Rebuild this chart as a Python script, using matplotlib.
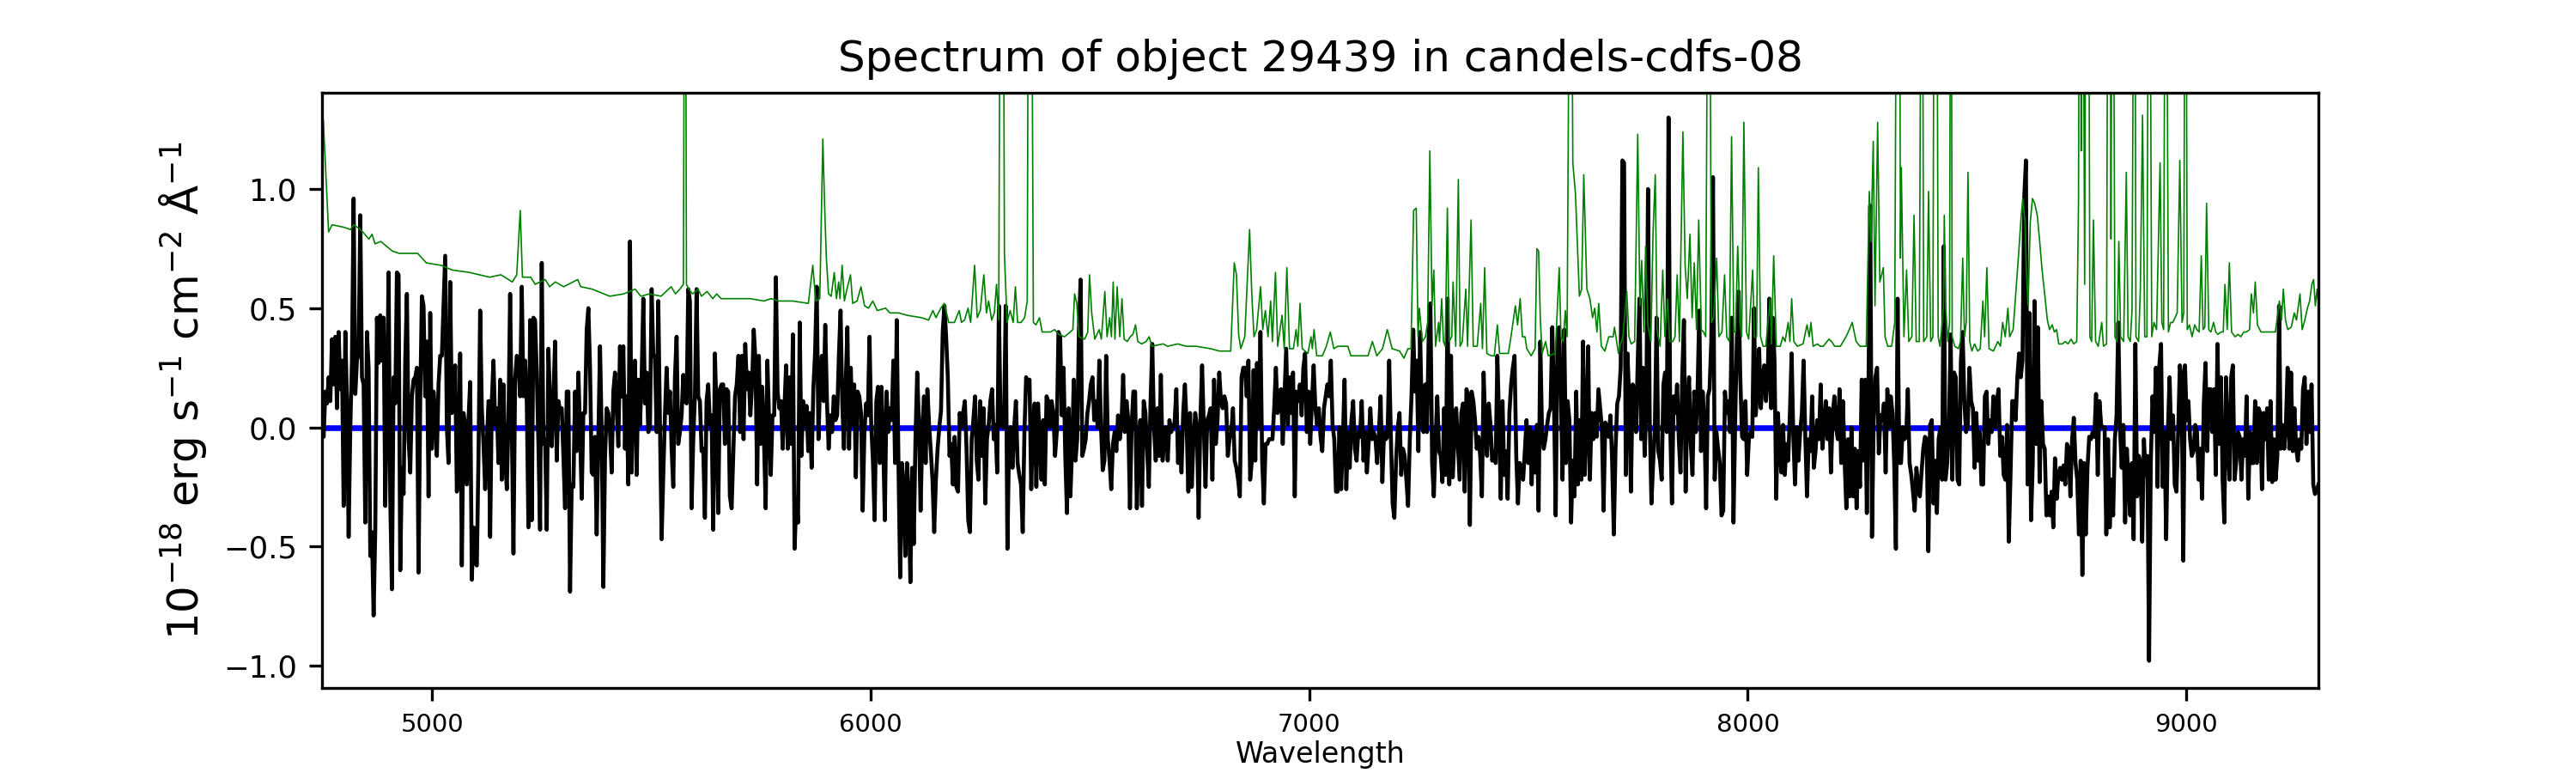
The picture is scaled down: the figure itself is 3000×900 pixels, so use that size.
import numpy as np
import matplotlib
matplotlib.use("Agg")
import matplotlib.pyplot as plt

TITLE = "Spectrum of object 29439 in candels-cdfs-08"
XLABEL = "Wavelength"
YLABEL = "$10^{-18}$ erg s$^{-1}$ cm$^{-2}$ Å$^{-1}$"

# wavelength span of each flux segment (Angstrom)
SEG_RANGES = [(4749, 5679), (5683, 6599), (6603, 7519), (7523, 8439), (8443, 9301)]

FLUX_SEG1 = [0.01, -0.04, 0.15, 0.10, 0.21, 0.11, 0.37, 0.18, 0.38, 0.08, 0.40, 0.16, 0.28, -0.33, 0.40, 0.11,
             -0.46, 0.00, 0.28, 0.96, 0.14, 0.28, 0.31, 0.89, 0.21, 0.18, -0.40, 0.40, 0.25, -0.54, -0.44, -0.79,
             -0.43, 0.46, 0.27, 0.47, 0.28, 0.46, -0.33, 0.11, 0.65, -0.30, -0.68, 0.21, 0.10, 0.65, 0.64, -0.60,
             -0.17, -0.28, 0.28, 0.56, -0.05, -0.19, 0.13, 0.20, 0.21, 0.25, -0.61, 0.11, 0.55, 0.51, 0.13, 0.36,
             -0.29, 0.48, -0.09, 0.15, 0.06, -0.12, 0.18, 0.30, 0.30, 0.51, 0.72, 0.00, -0.15, 0.61, 0.06, 0.10,
             0.26, -0.27, -0.15, 0.31, -0.58, 0.06, 0.01, -0.24, 0.03, 0.19, -0.64, -0.42, -0.57, -0.58, -0.12, 0.49,
             0.08, -0.07, -0.26, -0.07, 0.11, -0.46, 0.11, 0.28, 0.01, 0.08, -0.15, 0.20, -0.22, 0.18, -0.12, -0.26,
             0.03, 0.56, 0.03, -0.53, 0.20, 0.30, 0.28, 0.13, 0.59, 0.13, 0.28, 0.11, -0.42, 0.45, -0.39, 0.46,
             0.45, 0.23, -0.07, -0.43, 0.69, -0.07, -0.05, -0.43, 0.33, 0.10, -0.08, 0.13, 0.36, -0.14, 0.11, 0.07,
             0.08, -0.12, -0.34, 0.15, 0.15, -0.69, -0.24, -0.25, 0.15, -0.10, 0.23, -0.02, -0.30, 0.06, 0.06, 0.41,
             0.50, 0.25, -0.19, -0.20, -0.04, -0.45, -0.04, 0.34, -0.02, -0.67, -0.13, 0.08, 0.06, -0.02, -0.19, 0.15,
             0.23, 0.08, -0.08, 0.34, 0.13, 0.34, -0.09, 0.13, -0.24, 0.78, -0.19, 0.21, 0.28, -0.20, 0.20, 0.01,
             0.21, 0.54, 0.10, 0.23, -0.02, 0.00, 0.58, 0.30, 0.30, -0.02, 0.53, 0.01, -0.47, -0.20, 0.05, 0.25,
             0.06, 0.15, -0.09, -0.25, 0.21, 0.38, -0.07, -0.02, 0.05, 0.22, 0.11, 0.10, 0.58, 0.53, -0.34, -0.05,
             0.13, 0.58, 0.13, 0.11, -0.10, -0.09, -0.38, 0.11, 0.18, 0.01, 0.05, -0.43, 0.31, 0.06, -0.36, 0.16,
             0.18, 0.18, -0.07, 0.16, 0.15, -0.29]

FLUX_SEG2 = [-0.34, -0.10, 0.13, 0.18, 0.30, -0.02, 0.30, -0.05, 0.35, 0.16, 0.23, 0.05, 0.18, 0.41, 0.28, -0.24,
             0.30, -0.07, 0.17, -0.05, -0.34, 0.28, 0.03, -0.20, 0.05, 0.05, 0.63, 0.15, 0.08, 0.11, -0.09, 0.08,
             0.26, -0.09, 0.21, -0.07, 0.39, -0.51, -0.30, -0.40, 0.44, -0.12, 0.11, 0.01, 0.09, -0.10, 0.06, -0.17,
             0.16, 0.31, 0.59, -0.05, 0.20, 0.30, 0.11, 0.43, 0.11, -0.09, 0.05, -0.02, 0.13, 0.03, 0.05, 0.30,
             0.49, 0.10, -0.09, 0.18, 0.42, -0.09, 0.25, 0.01, 0.18, -0.21, 0.15, 0.13, 0.06, -0.35, -0.02, 0.10,
             0.05, 0.38, 0.01, -0.14, -0.39, 0.11, 0.17, -0.15, 0.17, -0.05, -0.39, 0.15, -0.02, 0.08, 0.03, 0.28,
             -0.15, 0.45, -0.15, -0.63, -0.15, -0.25, -0.54, -0.15, -0.30, -0.65, -0.17, -0.49, -0.05, 0.23, 0.03, -0.35,
             -0.02, 0.13, -0.15, 0.16, 0.01, -0.10, -0.22, -0.44, -0.22, -0.09, 0.00, 0.07, 0.40, 0.51, 0.38, 0.21,
             -0.12, -0.07, -0.24, -0.04, -0.25, -0.27, 0.06, 0.00, 0.06, 0.11, -0.09, -0.39, -0.44, -0.05, 0.03, 0.13,
             -0.14, -0.22, 0.11, -0.12, 0.08, -0.32, -0.05, 0.01, 0.11, 0.16, -0.05, 0.01, -0.19, 0.51, 0.01, 0.00,
             0.00, 0.51, -0.51, -0.05, 0.00, -0.17, 0.00, 0.11, -0.15, -0.20, -0.24, -0.44, -0.02, 0.21, 0.18, 0.20,
             -0.26, 0.01, 0.10, -0.25, 0.10, -0.05, -0.22, 0.03, -0.24, 0.13, 0.11, 0.00, 0.11, 0.06, -0.12, -0.02,
             0.40, 0.38, 0.05, 0.25, -0.12, -0.36, 0.08, -0.29, -0.09, 0.20, -0.14, -0.05, 0.41, 0.62, -0.12, -0.09,
             -0.05, 0.06, 0.11, 0.18, 0.21, 0.03, 0.11, 0.00, 0.28, 0.00, -0.18, -0.14, 0.30, -0.05, -0.14, -0.26,
             -0.07, -0.02, -0.10, 0.05, -0.05, 0.01, 0.22, -0.02, 0.11, 0.03, -0.34, 0.01, 0.15]

FLUX_SEG3 = [0.15, -0.34, -0.10, 0.03, -0.33, 0.11, 0.06, -0.10, -0.25, 0.11, 0.35, 0.00, -0.14, 0.08, -0.12, 0.22,
             -0.14, -0.05, 0.00, -0.14, 0.03, -0.02, 0.00, 0.02, 0.16, -0.15, -0.02, -0.19, 0.06, 0.18, 0.01, -0.27,
             0.06, -0.25, -0.05, 0.06, 0.00, -0.38, 0.03, 0.26, 0.01, -0.25, 0.03, 0.05, 0.08, -0.22, 0.20, -0.07,
             0.03, 0.23, 0.11, 0.08, 0.13, 0.10, -0.12, -0.05, -0.02, 0.08, -0.14, -0.17, -0.22, -0.29, 0.21, 0.25,
             0.25, 0.13, 0.28, -0.22, -0.14, 0.24, -0.14, 0.27, 0.00, 0.40, -0.14, -0.32, -0.07, -0.07, -0.05, -0.05,
             -0.05, 0.08, 0.25, 0.06, 0.15, 0.16, -0.07, 0.13, 0.33, 0.01, 0.21, 0.06, 0.23, -0.29, 0.15, 0.11,
             0.18, 0.05, 0.25, 0.31, -0.02, 0.15, -0.07, 0.11, 0.26, 0.08, 0.01, 0.08, -0.04, -0.10, 0.08, 0.13,
             0.18, 0.13, 0.28, 0.01, -0.05, -0.27, -0.27, 0.00, -0.26, -0.05, 0.20, -0.26, -0.02, -0.17, 0.03, 0.11,
             -0.09, -0.14, -0.02, -0.04, 0.11, -0.14, -0.02, -0.19, -0.07, 0.08, -0.05, -0.02, -0.05, -0.15, -0.02, 0.13,
             -0.23, -0.02, -0.05, -0.04, 0.28, -0.05, -0.32, -0.38, -0.14, 0.00, 0.06, -0.20, -0.09, -0.12, -0.22, -0.33,
             -0.05, 0.13, 0.41, 0.15, 0.28, -0.10, 0.40, 0.03, -0.02, 0.18, -0.02, 0.38, 0.52, -0.15, -0.29, -0.05,
             0.13, -0.10, -0.12, -0.23, 0.08, -0.20, 0.54, -0.24, 0.30, -0.21, -0.05, 0.08, -0.07, -0.22, 0.06, 0.10,
             -0.27, 0.16, 0.13, -0.41, 0.15, 0.11, 0.03, -0.09, -0.04, -0.12, -0.29, 0.23, 0.00, -0.12, 0.10, 0.01,
             -0.14, -0.10, -0.15, 0.30, 0.03, -0.30, 0.11, -0.20, -0.10, -0.30, 0.06, 0.18, 0.25, 0.30, -0.12, -0.32,
             -0.15, -0.17, -0.22, -0.10, 0.03, -0.15, 0.00, -0.24, -0.02, -0.19, 0.01]

FLUX_SEG4 = [-0.35, 0.36, -0.02, -0.09, -0.05, 0.01, 0.06, 0.08, 0.42, 0.11, -0.37, 0.35, 0.42, 0.15, -0.22, 0.41,
             -0.15, 0.11, 0.03, -0.40, -0.14, -0.29, 0.15, -0.24, 0.03, -0.22, 0.36, -0.20, -0.02, 0.34, -0.22, 0.06,
             -0.05, 0.06, -0.04, 0.16, 0.08, 0.00, -0.35, 0.02, 0.00, -0.04, 0.05, -0.14, -0.45, -0.09, 0.10, 0.13,
             0.25, 1.12, 1.11, -0.20, 0.31, 0.11, -0.27, 0.18, 0.16, -0.02, 0.28, 0.54, -0.05, 0.25, -0.12, 0.08,
             1.00, 0.03, -0.32, -0.15, 0.00, 0.46, -0.10, -0.14, -0.22, 0.18, 0.23, -0.02, 1.30, 0.00, -0.32, 0.13,
             0.06, 0.18, -0.05, -0.19, 0.21, 0.45, -0.27, 0.08, 0.21, -0.07, -0.20, 0.15, -0.02, 0.16, 0.49, -0.10,
             0.15, 0.01, -0.34, 0.13, 0.16, 0.36, 1.05, -0.22, -0.02, -0.09, -0.15, -0.37, -0.35, 0.15, 0.06, 0.11,
             -0.02, 0.46, -0.40, 0.03, 0.38, 0.57, 0.20, -0.04, -0.05, 0.11, -0.20, -0.05, -0.02, -0.04, 0.50, 0.05,
             0.16, 0.33, 0.08, 0.20, 0.26, 0.11, 0.20, 0.54, 0.08, 0.46, 0.28, -0.30, 0.06, -0.09, -0.19, 0.01,
             -0.20, -0.07, -0.14, 0.06, 0.31, -0.04, -0.24, 0.00, -0.14, -0.02, 0.06, 0.28, -0.04, -0.29, -0.05, -0.10,
             0.13, -0.17, -0.10, 0.03, -0.05, 0.18, -0.09, 0.00, 0.11, -0.05, 0.08, -0.19, 0.05, 0.13, 0.00, -0.05,
             0.16, -0.15, 0.11, -0.14, -0.34, -0.05, -0.29, 0.00, -0.29, -0.09, -0.34, -0.10, -0.25, 0.20, -0.14, 0.20,
             -0.36, 0.20, 0.93, -0.46, 0.03, 0.21, 0.25, -0.11, 0.05, 0.03, 0.10, -0.19, 0.16, 0.00, 0.13, 0.06,
             -0.15, -0.51, 0.54, -0.15, -0.15, 0.00, -0.05, -0.04, 0.16, -0.15, -0.20, -0.27, -0.35, -0.17, -0.24, -0.29,
             -0.19, -0.09, -0.04, -0.05, -0.52, 0.01, 0.03, -0.32, -0.14, -0.36, -0.05, 0.00]

FLUX_SEG5 = [-0.22, 0.76, -0.22, -0.15, 0.00, 0.39, -0.22, 0.23, 0.21, -0.22, -0.24, 0.28, 0.40, 0.11, -0.02, 0.01,
             0.25, 0.11, 0.08, -0.17, 0.06, -0.14, -0.02, -0.24, -0.24, 0.13, 0.15, -0.07, 0.03, -0.02, 0.13, 0.00,
             0.11, 0.16, -0.12, -0.04, -0.20, -0.22, 0.01, -0.48, -0.20, 0.11, 0.11, 0.03, 0.21, 0.31, 0.21, 0.28,
             0.96, 1.12, -0.24, 0.48, -0.39, -0.15, 0.53, -0.07, 0.42, -0.23, 0.11, -0.07, -0.09, -0.37, -0.29, -0.37,
             -0.27, -0.42, -0.13, -0.30, -0.20, -0.17, -0.22, -0.16, -0.24, -0.07, -0.09, -0.29, -0.05, 0.04, -0.15, -0.22,
             -0.45, -0.14, -0.62, -0.15, -0.45, -0.17, -0.04, -0.05, -0.02, -0.04, 0.14, -0.20, 0.11, 0.01, 0.00, 0.00,
             -0.45, -0.05, -0.42, -0.22, -0.37, -0.05, 0.05, 0.44, 0.00, -0.17, 0.01, -0.40, -0.09, -0.22, -0.37, -0.15,
             -0.47, 0.35, -0.29, -0.12, -0.15, -0.48, -0.05, -0.20, -0.12, -0.98, -0.15, 0.13, -0.02, 0.25, -0.25, 0.26,
             0.35, -0.25, -0.02, -0.47, -0.02, 0.21, -0.05, 0.05, -0.24, -0.27, -0.02, 0.26, 0.21, -0.56, 0.26, 0.03,
             0.11, -0.05, -0.12, -0.10, 0.01, -0.02, -0.22, -0.09, -0.30, 0.10, 0.27, -0.10, 0.16, 0.16, -0.02, 0.16,
             -0.20, 0.35, -0.07, 0.21, -0.22, -0.40, 0.21, -0.05, -0.22, 0.21, 0.26, -0.22, -0.14, -0.02, -0.04, -0.22,
             -0.05, -0.12, 0.13, -0.30, -0.02, -0.15, -0.15, 0.11, -0.15, 0.08, 0.06, -0.26, 0.06, -0.05, 0.08, -0.22,
             0.11, -0.23, -0.05, -0.22, -0.12, 0.51, -0.09, 0.01, -0.09, 0.01, 0.25, -0.09, 0.23, -0.10, 0.08, -0.09,
             -0.14, -0.05, -0.09, 0.16, 0.21, -0.07, 0.15, -0.02, 0.18, -0.24, -0.28, -0.27, -0.24]

FLUX_SEGMENTS = [FLUX_SEG1, FLUX_SEG2, FLUX_SEG3, FLUX_SEG4, FLUX_SEG5]

# sky / noise spectrum (green), wavelength and value pairs
SKY_WAVE = [4749, 4752, 4764, 4772, 4798, 4814, 4821, 4837, 4856, 4863, 4870, 4883, 4909, 4925, 4954, 4967,
            4987, 5020, 5046, 5085, 5131, 5157, 5183, 5193, 5201, 5206, 5225, 5235, 5258, 5268, 5281, 5300,
            5332, 5339, 5365, 5405, 5437, 5463, 5476, 5496, 5522, 5545, 5555, 5565, 5573, 5577, 5580, 5585,
            5594, 5607, 5614, 5627, 5640, 5649, 5659, 5679,
            5685, 5725, 5757, 5773, 5790, 5822, 5858, 5868, 5875, 5884, 5891, 5895, 5899, 5904, 5910, 5917,
            5922, 5927, 5930, 5935, 5940, 5946, 5954, 5959, 5969, 5978, 5986, 5995, 6005, 6015, 6034, 6044,
            6064, 6083, 6116, 6132, 6142, 6149, 6160, 6168, 6178, 6191, 6202, 6207, 6214, 6222, 6228, 6237,
            6243, 6250, 6258, 6264, 6269, 6276, 6282, 6287, 6292, 6297, 6301, 6305, 6311, 6318, 6325, 6330,
            6335, 6343, 6351, 6357, 6361, 6365, 6371, 6377, 6385, 6391, 6410, 6419, 6429, 6442, 6455, 6461,
            6465, 6470, 6475, 6488, 6495, 6499, 6504, 6511, 6521, 6526, 6534, 6539, 6545, 6549, 6553, 6557,
            6562, 6568, 6573, 6578, 6585, 6592, 6598,
            6604, 6609, 6618, 6628, 6635, 6641, 6667, 6677, 6700, 6720, 6742, 6775, 6795, 6821, 6829, 6834,
            6839, 6844, 6853, 6864, 6869, 6874, 6880, 6889, 6894, 6900, 6906, 6912, 6916, 6923, 6928, 6938,
            6943, 6949, 6955, 6964, 6970, 6974, 6979, 6984, 6997, 7004, 7007, 7011, 7017, 7030, 7039, 7048,
            7056, 7065, 7075, 7088, 7095, 7121, 7134, 7144, 7154, 7167, 7178, 7189, 7206, 7216, 7225, 7232,
            7238, 7244, 7248, 7251, 7258, 7265, 7270, 7275, 7280, 7284, 7288, 7295, 7297, 7302, 7306, 7310,
            7315, 7319, 7325, 7328, 7334, 7340, 7344, 7349, 7357, 7361, 7369, 7374, 7383, 7391, 7395, 7400,
            7405, 7415, 7422, 7429, 7434, 7442, 7454, 7460, 7470, 7475, 7481, 7486, 7492, 7496, 7506, 7515,
            7519, 7523, 7527, 7531, 7539, 7545, 7561, 7570, 7574, 7579, 7584, 7588, 7596, 7601, 7607, 7616,
            7621, 7626, 7633, 7640, 7646, 7651, 7656, 7660, 7666, 7674, 7683, 7693, 7696, 7705, 7710, 7715,
            7724, 7729, 7734, 7742, 7749, 7754, 7758, 7763, 7767, 7772, 7779, 7784, 7789, 7793, 7800, 7806,
            7811, 7817, 7822, 7829, 7834, 7839, 7844, 7852, 7857, 7862, 7868, 7873, 7878, 7883, 7888, 7894,
            7899, 7904, 7911, 7917, 7922, 7929, 7934, 7941, 7947, 7952, 7958, 7963, 7968, 7972, 7977, 7982,
            7986, 7991, 7997, 8002, 8011, 8015, 8020, 8024, 8029, 8035, 8041, 8051, 8054, 8059, 8065, 8074,
            8080, 8085, 8092, 8096, 8100, 8105, 8113, 8126, 8135, 8140, 8144, 8149, 8159, 8165, 8172, 8185,
            8191, 8198, 8211, 8224, 8229, 8238, 8247, 8256, 8270, 8277, 8281, 8286, 8290, 8296, 8301, 8309,
            8313, 8319, 8328, 8335, 8341, 8345, 8348, 8350, 8356, 8362, 8367, 8374, 8379, 8384, 8391, 8397,
            8401, 8408, 8412, 8417, 8422, 8426, 8430, 8434, 8438, 8443, 8446, 8448, 8451, 8456, 8460, 8463,
            8466, 8472, 8480, 8485, 8490, 8494, 8498, 8502, 8506, 8511, 8517, 8524, 8530, 8536, 8540, 8545,
            8550, 8560, 8570, 8576, 8581, 8587, 8593, 8597, 8605, 8612, 8618, 8623, 8627, 8632, 8635, 8639,
            8644, 8649, 8654, 8660, 8665, 8671, 8678, 8683, 8688, 8694, 8699, 8704, 8709, 8717, 8724, 8730,
            8737, 8743, 8750, 8754, 8757, 8760, 8763, 8768, 8772, 8776, 8780, 8784, 8788, 8793, 8799, 8807,
            8811, 8818, 8822, 8825, 8828, 8832, 8837, 8842, 8846, 8850, 8857, 8863, 8867, 8872, 8876, 8882,
            8885, 8891, 8895, 8900, 8905, 8910, 8915, 8921, 8926, 8932, 8940, 8944, 8948, 8953, 8959, 8964,
            8969, 8974, 8979, 8985, 8990, 8994, 8998, 9002, 9007, 9013, 9019, 9024, 9029, 9034, 9038, 9042,
            9046, 9051, 9056, 9062, 9067, 9072, 9079, 9084, 9088, 9093, 9098, 9103, 9111, 9118, 9124, 9131,
            9137, 9144, 9148, 9153, 9157, 9162, 9170, 9183, 9190, 9203, 9212, 9217, 9221, 9226, 9231, 9239,
            9246, 9251, 9259, 9264, 9270, 9276, 9281, 9286, 9290, 9294, 9298, 9301]

SKY_FLUX = [1.30, 1.29, 0.82, 0.85, 0.84, 0.83, 0.85, 0.83, 0.79, 0.81, 0.77, 0.78, 0.74, 0.73, 0.73, 0.73,
            0.69, 0.68, 0.66, 0.65, 0.63, 0.64, 0.61, 0.64, 0.91, 0.63, 0.63, 0.60, 0.62, 0.59, 0.61, 0.59,
            0.62, 0.59, 0.58, 0.55, 0.56, 0.58, 0.55, 0.56, 0.55, 0.59, 0.56, 0.58, 0.60, 3.00, 0.60, 0.58,
            0.56, 0.58, 0.55, 0.57, 0.54, 0.56, 0.54, 0.54,
            0.54, 0.54, 0.53, 0.54, 0.53, 0.53, 0.52, 0.68, 0.53, 0.54, 1.21, 0.93, 0.71, 0.56, 0.55, 0.65,
            0.54, 0.61, 0.54, 0.68, 0.53, 0.58, 0.64, 0.52, 0.53, 0.59, 0.51, 0.50, 0.53, 0.49, 0.50, 0.48,
            0.48, 0.47, 0.46, 0.45, 0.49, 0.46, 0.50, 0.52, 0.44, 0.44, 0.49, 0.44, 0.45, 0.50, 0.44, 0.68,
            0.46, 0.49, 0.64, 0.48, 0.53, 0.45, 0.48, 0.60, 0.45, 3.00, 3.00, 0.73, 0.44, 0.49, 0.44, 0.59,
            0.44, 0.44, 0.46, 0.53, 3.00, 3.00, 0.44, 0.43, 0.46, 0.40, 0.40, 0.41, 0.39, 0.38, 0.40, 0.41,
            0.56, 0.52, 0.38, 0.37, 0.40, 0.64, 0.48, 0.37, 0.41, 0.37, 0.57, 0.38, 0.46, 0.38, 0.61, 0.37,
            0.59, 0.38, 0.54, 0.37, 0.36, 0.38, 0.39,
            0.43, 0.36, 0.35, 0.36, 0.38, 0.34, 0.35, 0.34, 0.35, 0.34, 0.34, 0.33, 0.32, 0.32, 0.69, 0.64,
            0.39, 0.33, 0.38, 0.83, 0.56, 0.38, 0.41, 0.59, 0.41, 0.49, 0.38, 0.53, 0.36, 0.65, 0.34, 0.47,
            0.33, 0.67, 0.33, 0.33, 0.41, 0.34, 0.52, 0.33, 0.31, 0.38, 0.33, 0.41, 0.30, 0.30, 0.34, 0.40,
            0.33, 0.34, 0.34, 0.34, 0.30, 0.30, 0.30, 0.36, 0.30, 0.33, 0.41, 0.33, 0.32, 0.29, 0.33, 0.33,
            0.91, 0.92, 0.38, 0.50, 0.36, 0.38, 0.44, 1.16, 0.51, 0.66, 0.34, 0.44, 0.36, 0.54, 0.36, 0.34,
            0.92, 0.36, 0.38, 0.61, 0.34, 1.04, 0.34, 0.36, 0.58, 0.34, 0.87, 0.34, 0.34, 0.52, 0.33, 0.67,
            0.31, 0.30, 0.30, 0.43, 0.31, 0.31, 0.31, 0.38, 0.51, 0.43, 0.54, 0.38, 0.38, 0.33, 0.30, 0.33,
            0.75, 0.74, 0.45, 0.31, 0.36, 0.30, 0.31, 0.67, 0.38, 0.36, 0.49, 0.38, 3.00, 1.11, 0.98, 0.55,
            0.58, 1.06, 0.58, 0.54, 0.46, 0.50, 0.40, 0.52, 0.34, 0.32, 0.38, 0.38, 0.42, 0.31, 0.35, 0.38,
            0.57, 0.38, 0.35, 0.36, 1.23, 0.51, 0.70, 0.40, 0.76, 0.43, 0.36, 0.82, 1.06, 0.41, 0.34, 0.66,
            0.38, 0.54, 0.36, 0.36, 0.38, 0.64, 0.36, 1.24, 0.68, 0.54, 0.81, 0.46, 0.69, 0.41, 0.87, 0.41,
            0.40, 0.38, 3.00, 0.44, 0.46, 0.71, 0.38, 0.40, 0.64, 0.38, 0.36, 1.22, 0.40, 0.40, 0.76, 0.44,
            0.38, 1.28, 0.40, 0.37, 0.66, 0.38, 0.38, 1.09, 0.38, 0.34, 0.34, 0.54, 0.35, 0.72, 0.34, 0.34,
            0.38, 0.36, 0.44, 0.36, 0.54, 0.36, 0.34, 0.35, 0.43, 0.38, 0.44, 0.34, 0.35, 0.34, 0.34, 0.37,
            0.36, 0.34, 0.34, 0.38, 0.40, 0.44, 0.36, 0.34, 0.34, 0.99, 0.78, 1.20, 0.51, 1.28, 0.61, 0.67,
            0.38, 0.34, 0.34, 0.44, 3.00, 3.00, 0.71, 1.09, 0.38, 0.66, 0.36, 0.38, 0.89, 0.36, 0.36, 3.00,
            0.36, 0.38, 0.99, 0.36, 0.38, 3.00, 3.00, 0.38, 0.34, 0.43, 0.51, 0.89, 0.51, 0.36, 0.44, 3.00,
            0.38, 0.34, 0.33, 0.36, 0.71, 0.38, 0.44, 1.07, 0.36, 0.32, 0.35, 0.32, 0.33, 0.53, 0.38, 0.67,
            0.33, 0.32, 0.36, 0.34, 0.44, 0.38, 0.50, 0.38, 0.41, 0.59, 0.74, 0.88, 0.96, 0.86, 0.66, 0.51,
            0.86, 0.96, 0.94, 0.89, 0.79, 0.66, 0.54, 0.45, 0.41, 0.43, 0.40, 0.41, 0.35, 0.35, 0.36, 0.35,
            0.37, 0.35, 0.36, 0.94, 3.00, 1.16, 3.00, 0.60, 3.00, 3.00, 0.38, 0.36, 0.87, 0.36, 0.34, 0.44,
            0.34, 0.35, 3.00, 3.00, 0.79, 3.00, 0.38, 0.36, 0.78, 0.38, 0.36, 1.07, 0.38, 0.36, 0.49, 3.00,
            0.38, 0.36, 0.58, 1.31, 0.38, 0.38, 3.00, 0.38, 0.44, 0.41, 1.11, 0.44, 0.41, 3.00, 0.40, 0.44,
            0.44, 0.46, 0.48, 1.12, 0.44, 0.48, 3.00, 0.41, 0.43, 0.38, 0.43, 0.41, 0.40, 0.72, 0.41, 0.42,
            0.94, 0.41, 0.40, 0.44, 0.40, 0.39, 0.40, 0.40, 0.60, 0.41, 0.69, 0.40, 0.38, 0.39, 0.38, 0.40,
            0.40, 0.41, 0.56, 0.48, 0.61, 0.43, 0.40, 0.40, 0.40, 0.40, 0.53, 0.45, 0.58, 0.45, 0.41, 0.42,
            0.48, 0.45, 0.56, 0.41, 0.45, 0.50, 0.53, 0.60, 0.62, 0.51, 0.58, 0.52]

MODEL_LEVEL = 0.0
XLIM = (4749, 9301)
YLIM = (-1.094, 1.404)

wave_parts = [np.linspace(a, b, len(f)) for (a, b), f in zip(SEG_RANGES, FLUX_SEGMENTS)]
wave = np.concatenate(wave_parts)
flux = np.concatenate([np.asarray(f) for f in FLUX_SEGMENTS])
sky_wave = np.asarray(SKY_WAVE, dtype=float)
sky_flux = np.asarray(SKY_FLUX, dtype=float)
n = min(len(sky_wave), len(sky_flux))
sky_wave, sky_flux = sky_wave[:n], sky_flux[:n]

fig, ax = plt.subplots(figsize=(10, 3), dpi=300)
ax.plot([XLIM[0], XLIM[1]], [MODEL_LEVEL, MODEL_LEVEL], color="blue", lw=1.6, zorder=1.5)
ax.plot(wave, flux, color="black", lw=1.1, zorder=2)
ax.plot(sky_wave, sky_flux, color="green", lw=0.4, zorder=2.5)
ax.set_xlim(*XLIM)
ax.set_ylim(*YLIM)
ax.set_title(TITLE, fontsize=12)
ax.set_xlabel(XLABEL, fontsize=8, labelpad=1)
ax.set_ylabel(YLABEL, fontsize=12)
ax.tick_params(axis="x", labelsize=7)
ax.tick_params(axis="y", labelsize=8.5)
fig.savefig("out.png", dpi=300)
